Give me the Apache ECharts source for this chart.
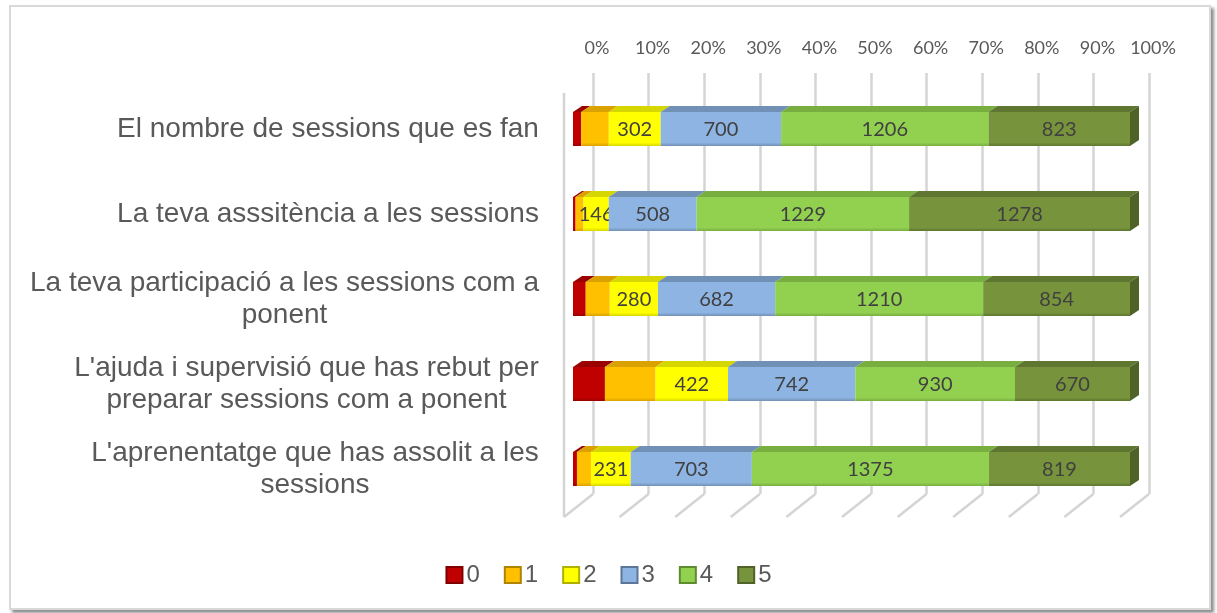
<!DOCTYPE html>
<html>
<head>
<meta charset="utf-8">
<script src="https://cdn.jsdelivr.net/npm/echarts@6/dist/echarts.min.js"></script>
<style>
  html, body { margin: 0; padding: 0; background: #fff; }
  #wrap { position: relative; width: 1217px; height: 613px; }
  #frame {
    position: absolute; left: 9px; top: 5px; width: 1198px; height: 601px;
    border: 2px solid #d9d9d9; box-shadow: 3px 3px 3px rgba(0,0,0,0.45); background: #fff;
  }
  #main { position: absolute; left: 0; top: 0; width: 1217px; height: 613px; }
</style>
</head>
<body>
<div id="wrap">
  <div id="frame"></div>
  <div id="main"></div>
</div>
<script>
// categories, top to bottom
const categories = [
  'El nombre de sessions que es fan',
  'La teva asssitència a les sessions',
  'La teva participació a les sessions com a\nponent',
  "L'ajuda i supervisió que has rebut per\npreparar sessions com a ponent",
  "L'aprenentatge que has assolit a les\nsessions"
];
const levels = ['0', '1', '2', '3', '4', '5'];
// answer counts per level (0 and 1)
const v0 = [48, 15, 74, 186, 23];
const v1 = [160, 46, 140, 295, 81];
const v2 = [302, 146, 280, 422, 231];
const v3 = [700, 508, 682, 742, 703];
const v4 = [1206, 1229, 1210, 930, 1375];
const v5 = [823, 1278, 854, 670, 819];
const tickValues = [0, 10, 20, 30, 40, 50, 60, 70, 80, 90, 100];

const counts = [v0, v1, v2, v3, v4, v5];
const colors = [
  { front: '#c00000', top: '#9a0000', side: '#800000' },
  { front: '#ffc000', top: '#d9a200', side: '#b08400' },
  { front: '#ffff00', top: '#d6d600', side: '#b0b000' },
  { front: '#8db4e2', top: '#7190b5', side: '#5b7698' },
  { front: '#92d050', top: '#78ad40', side: '#5f8c32' },
  { front: '#77933c', top: '#5e7630', side: '#4f6228' }
];

const labelFont = '"Liberation Sans", Arial, sans-serif';
const numFont = 'Lato, "Open Sans", sans-serif';
const labelSize = 28;

// per-category rich styles so that wrapped lines are centred under each other
const ctx = document.createElement('canvas').getContext('2d');
ctx.font = labelSize + 'px ' + labelFont;
const rich = {};
categories.forEach((c, i) => {
  const w = Math.max(...c.split('\n').map(l => ctx.measureText(l).width));
  rich['l' + i] = {
    width: Math.ceil(w) + 2, align: 'center', fontSize: labelSize,
    fontFamily: labelFont, color: '#595959', lineHeight: 32
  };
});

// stacked percentages
const totals = categories.map((c, i) => counts.reduce((s, arr) => s + arr[i], 0));

function makeRender(k) {
  return function (params, api) {
    const i = api.value(0), s = api.value(1), e = api.value(2), val = api.value(3);
    const a = api.coord([s, i]), b = api.coord([e, i]);
    const h = api.size([0, 1])[1] * 0.4;
    const x0 = a[0], x1 = b[0], y0 = a[1] - h / 2;
    const dx = 9, dy = 6;
    const c = colors[k];
    const children = [
      {
        type: 'polygon',
        shape: { points: [[x0, y0], [x0 + dx, y0 - dy], [x1 + dx, y0 - dy], [x1, y0]] },
        style: { fill: c.top }
      },
      {
        type: 'rect',
        shape: { x: x0, y: y0, width: x1 - x0, height: h },
        style: {
          fill: new echarts.graphic.LinearGradient(0, 0, 0, 1, [
            { offset: 0, color: c.front },
            { offset: 0.9, color: c.front },
            { offset: 1, color: c.top }
          ])
        }
      }
    ];
    if (k === 5) {
      children.push({
        type: 'polygon',
        shape: { points: [[x1, y0], [x1 + dx, y0 - dy], [x1 + dx, y0 + h - dy], [x1, y0 + h]] },
        style: { fill: c.side }
      });
    }
    if (k >= 2) {
      children.push({
        type: 'text',
        style: {
          text: String(val), x: (x0 + x1) / 2, y: y0 + h / 2 + 1,
          align: 'center', verticalAlign: 'middle',
          fontSize: 20, fontFamily: numFont, fill: '#404040'
        }
      });
    }
    return { type: 'group', children };
  };
}

const barSeries = levels.map((name, k) => ({
  name: name,
  type: 'custom',
  xAxisIndex: 0,
  yAxisIndex: 0,
  z: 5,
  clip: false,
  itemStyle: { color: colors[k].front, borderColor: colors[k].side, borderWidth: 1 },
  renderItem: makeRender(k),
  encode: { x: [1, 2], y: 0 },
  data: categories.map((c, i) => {
    let start = 0;
    for (let j = 0; j < k; j++) start += counts[j][i];
    const end = start + counts[k][i];
    return [i, start / totals[i] * 100, end / totals[i] * 100, counts[k][i]];
  })
}));

// floor lines of the 3D wall, drawn from the back-wall axis
const floorSeries = {
  type: 'custom',
  xAxisIndex: 1,
  yAxisIndex: 1,
  z: 1,
  silent: true,
  clip: false,
  renderItem: function (params, api) {
    const v = api.value(0);
    const bot = api.coord([v, 0]);
    const top = api.coord([v, 1]);
    const fx = -29, fy = 23;
    const style = { stroke: '#d4d4d4', lineWidth: 2.5 };
    const children = [{
      type: 'line',
      shape: { x1: bot[0], y1: bot[1], x2: bot[0] + fx, y2: bot[1] + fy },
      style: style
    }];
    if (v === 0) {
      children.push({
        type: 'line',
        shape: { x1: bot[0] + fx, y1: bot[1] + fy, x2: top[0] + fx, y2: top[1] + 20 },
        style: style
      });
    }
    return { type: 'group', children };
  },
  data: tickValues.map(v => [v])
};

const chart = echarts.init(document.getElementById('main'), null, { renderer: 'canvas' });
chart.setOption({
  backgroundColor: 'transparent',
  animation: false,
  grid: [
    { left: 573, right: 87, top: 86.5, bottom: 101.5 },
    { left: 593, right: 68, top: 73, bottom: 119 }
  ],
  legend: {
    data: levels,
    bottom: 21,
    left: 'center',
    icon: 'rect',
    itemWidth: 16,
    itemHeight: 16,
    itemGap: 24,
    textStyle: { fontSize: 24, fontFamily: labelFont, color: '#595959', padding: [0, 0, 0, -1] }
  },
  xAxis: [
    { gridIndex: 0, type: 'value', min: 0, max: 100, show: false },
    {
      gridIndex: 1, type: 'value', position: 'top', min: 0, max: 100, interval: 10,
      axisLine: { show: false }, axisTick: { show: false },
      axisLabel: {
        formatter: '{value}%', color: '#595959', fontSize: 18, fontFamily: numFont,
        margin: 16, padding: [0, 0, 0, 8]
      },
      splitLine: { show: true, lineStyle: { color: '#d4d4d4', width: 2.5 } }
    }
  ],
  yAxis: [
    {
      gridIndex: 0, type: 'category', inverse: true, data: categories,
      axisLine: { show: false }, axisTick: { show: false }, splitLine: { show: false },
      axisLabel: {
        margin: 33,
        formatter: function (value, index) {
          return value.split('\n').map(l => '{l' + index + '|' + l + '}').join('\n');
        },
        rich: rich
      }
    },
    { gridIndex: 1, type: 'value', min: 0, max: 1, show: false }
  ],
  series: [floorSeries].concat(barSeries)
});
</script>
</body>
</html>
